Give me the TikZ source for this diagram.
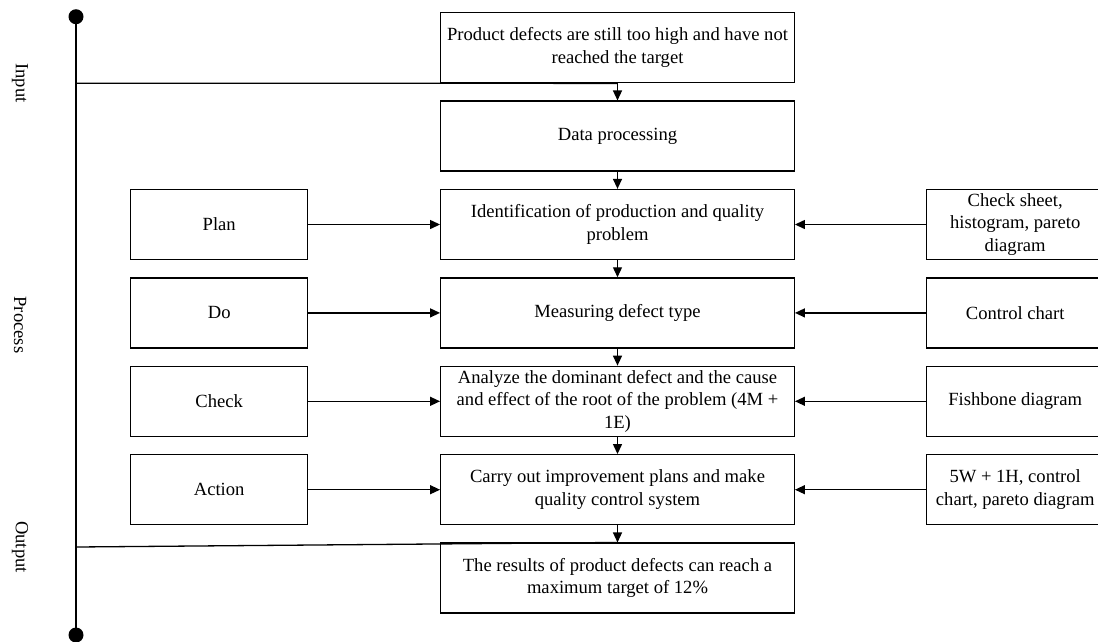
\documentclass[tikz,border=0pt]{standalone}
\usepackage{fontspec}
\setmainfont{Liberation Serif}
\usetikzlibrary{arrows.meta}
\begin{document}
\begin{tikzpicture}[x=1pt,y=-1pt,
  every node/.style={font=\fontsize{18.6}{22.5}\selectfont},
  mainbox/.style={draw, line width=1.3pt, minimum width=353.6pt, minimum height=70pt, align=center, inner sep=0pt},
  sidebox/.style={draw, line width=1.3pt, minimum width=177pt, minimum height=70pt, align=center, inner sep=0pt},
  conn/.style={line width=1.3pt, -{Triangle[length=10pt,width=9pt]}},
  plain/.style={line width=1.3pt},
  dot/.style={circle, fill=black, inner sep=0pt, minimum size=15pt},
  phase/.style={rotate=-90, anchor=center}
]
\useasboundingbox (0,0) rectangle (1098,641);

% main column
\node[mainbox] (n1) at (617.5,47.7) {Product defects are still too high and have not\\reached the target};
\node[mainbox] (n2) at (617.5,136.1) {Data processing};
\node[mainbox] (n3) at (617.5,224.5) {Identification of production and quality\\problem};
\node[mainbox] (n4) at (617.5,312.9) {Measuring defect type};
\node[mainbox] (n5) at (617.5,401.3) {Analyze the dominant defect and the cause\\and effect of the root of the problem (4M +\\1E)};
\node[mainbox] (n6) at (617.5,489.7) {Carry out improvement plans and make\\quality control system};
\node[mainbox] (n7) at (617.5,578.1) {The results of product defects can reach a\\maximum target of 12\%};

% left column
\node[sidebox] (plan) at (219.2,224.5) {Plan};
\node[sidebox] (do) at (219.2,312.9) {Do};
\node[sidebox] (check) at (219.2,401.3) {Check};
\node[sidebox] (act) at (219.2,489.7) {Action};

% right column
\node[sidebox] (tool1) at (1015.2,224.5) {Check sheet,\\histogram, pareto\\diagram};
\node[sidebox] (tool2) at (1015.2,312.9) {Control chart};
\node[sidebox] (tool3) at (1015.2,401.3) {Fishbone diagram};
\node[sidebox] (tool4) at (1015.2,489.7) {5W + 1H, control\\chart, pareto diagram};

% vertical flow
\draw[conn] (n1) -- (n2);
\draw[conn] (n2) -- (n3);
\draw[conn] (n3) -- (n4);
\draw[conn] (n4) -- (n5);
\draw[conn] (n5) -- (n6);
\draw[conn] (n6) -- (n7);

% side arrows
\draw[conn] (plan) -- (n3);
\draw[conn] (do) -- (n4);
\draw[conn] (check) -- (n5);
\draw[conn] (act) -- (n6);
\draw[conn] (tool1) -- (n3);
\draw[conn] (tool2) -- (n4);
\draw[conn] (tool3) -- (n5);
\draw[conn] (tool4) -- (n6);

% spine
\node[dot] (dtop) at (76,16.7) {};
\node[dot] (dbot) at (76,635) {};
\draw[plain] (dtop.center) -- (dbot.center);
\coordinate (inL) at (76,83.3);
\coordinate (outL) at (76,547);
\draw[plain] (inL) -- (n1.south);
\draw[plain] (outL) -- (n7.north);

% phase labels
\node[phase] (lin) at (20,83) {Input};
\node[phase] (lproc) at (20,325) {Process};
\node[phase] (lout) at (20,547) {Output};
\end{tikzpicture}
\end{document}
